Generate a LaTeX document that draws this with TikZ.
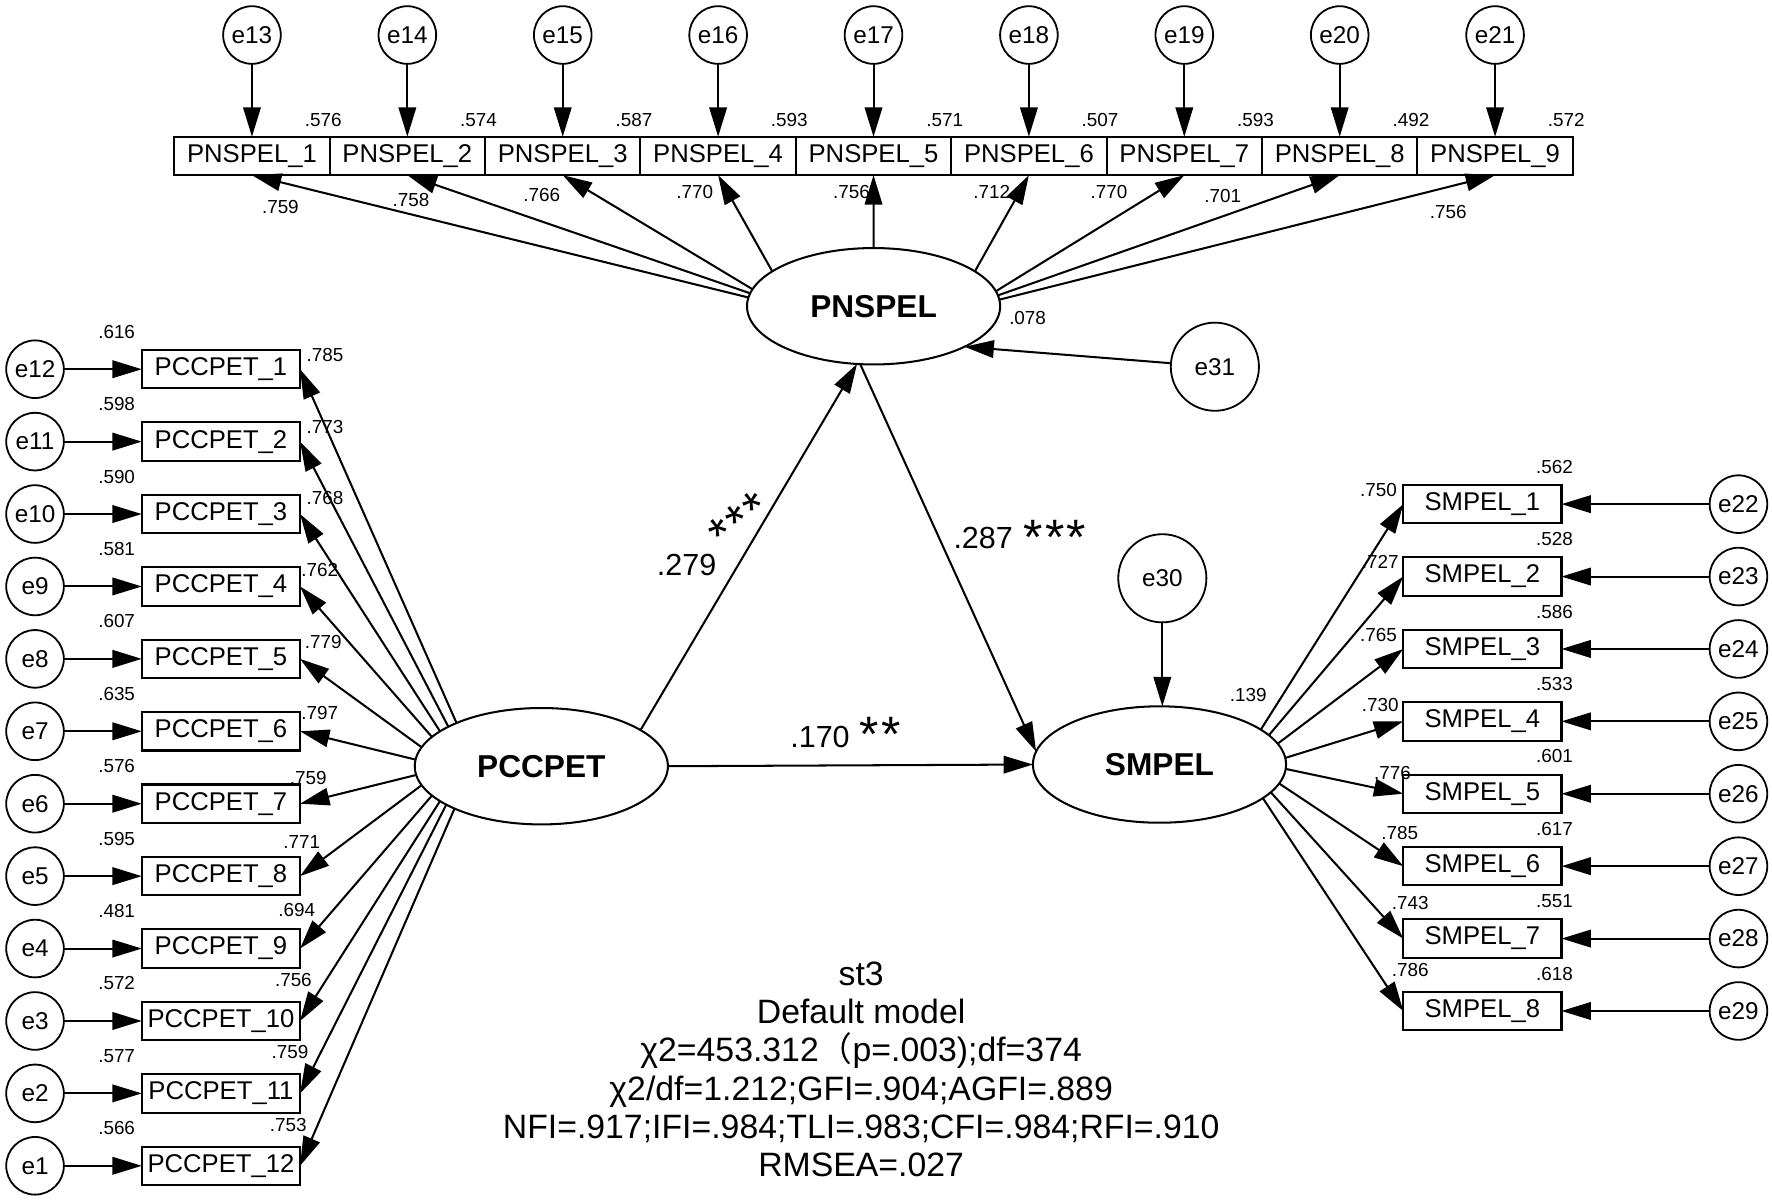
\documentclass[tikz,border=0pt]{standalone}
\usepackage{fontspec}
\setmainfont{Liberation Sans}
\newfontfamily\cjk{Noto Sans CJK SC}
\usetikzlibrary{arrows.meta,shapes.geometric}
\begin{document}
\begin{tikzpicture}[x=1pt,y=-1pt,
  every node/.style={inner sep=0pt, outer sep=0pt},
  obs/.style={draw, line width=1.8pt, rectangle, minimum height=34pt, font=\fontsize{22.7}{26}\selectfont},
  obsL/.style={obs, minimum width=140pt},
  obsT/.style={obs, minimum width=137.5pt},
  err/.style={draw, circle, line width=1.6pt, minimum size=51pt, font=\fontsize{21.5}{25}\selectfont},
  errB/.style={err, minimum size=78pt},
  lat/.style={draw, ellipse, line width=1.8pt, minimum width=224pt, minimum height=103pt, font=\bfseries\fontsize{28}{32}\selectfont},
  num/.style={font=\fontsize{16.7}{20}\selectfont},
  coef/.style={font=\fontsize{27}{31}\selectfont},
  star/.style={font=\fontsize{44}{48}\selectfont, anchor=base},
  fitline/.style={font=\fontsize{29.9}{34}\selectfont, anchor=base},
  arr/.style={line width=1.8pt, -{Triangle[length=26pt,width=15.5pt]}},
]
\fill[white] (0,0) rectangle (1568,1065);
\useasboundingbox (0,0) rectangle (1568,1065);

% latent variables
\node[lat] (PNSPEL) at (773,271) {PNSPEL};
\node[lat] (PCCPET) at (479,678) {PCCPET};
\node[lat] (SMPEL) at (1026,676.5) {SMPEL};

% top indicators
\foreach \ii/\ee/\va/\vg in {1/13/.576/176.5, 2/14/.574/174.5, 3/15/.587/172.5, 4/16/.593/161, 5/17/.571/90, 6/18/.507/19, 7/19/.593/7, 8/20/.492/5, 9/21/.572/3.5}{
  \pgfmathsetmacro\xx{154.2+137.5*(\ii-0.5)}
  \node[obsT] (pb\ii) at (\xx,138) {PNSPEL\_\ii};
  \node[err] (e\ee) at (\xx,31) {e\ee};
  \draw[arr] (e\ee) -- (pb\ii);
  \node[num] (rp\ii) at (\xx+63,106.2) {\va};
  \draw[arr] (PNSPEL.\vg) -- (pb\ii.south);
}
\foreach \ii/\vb/\vx/\vy in {1/.759/248.1/182.9, 2/.758/363.7/177, 3/.766/479.3/172.5, 4/.770/614.7/169.6, 5/.756/753.4/169.6, 6/.712/877.5/169.6, 7/.770/981.4/169.6, 8/.701/1082/173, 9/.756/1281.6/187.3}{
  \node[num] (lp\ii) at (\vx,\vy) {\vb};
}

% left indicators
\foreach \ii/\ee/\va/\vb/\vx/\vy/\vg in {1/12/.616/.785/287.6/314.1/153, 2/11/.598/.773/287.6/377.6/157, 3/10/.590/.768/287.6/441/161, 4/9/.581/.762/283/504.4/165, 5/8/.607/.779/286/567.8/171, 6/7/.635/.797/283/631.2/177, 7/6/.576/.759/272.8/688.7/184, 8/5/.595/.771/267/744.8/189, 9/4/.481/.694/262.5/805.2/195, 10/3/.572/.756/259.6/867.2/199, 11/2/.577/.759/256.6/930.6/202, 12/1/.566/.753/255.1/995.5/206}{
  \pgfmathsetmacro\yy{326.7+64.08*(\ii-1)}
  \node[obsL] (lb\ii) at (195.5,\yy) {PCCPET\_\ii};
  \node[err] (e\ee) at (31,\yy) {e\ee};
  \draw[arr] (e\ee) -- (lb\ii.west);
  \node[num] (rl\ii) at (103.2,\yy-33.2) {\va};
  \node[num] (ll\ii) at (\vx,\vy) {\vb};
  \draw[arr] (PCCPET.\vg) -- (lb\ii.east);
}

% right indicators
\foreach \ii/\ee/\va/\vb/\vx/\vy/\vg in {1/22/.562/.750/1219.8/433.6/19.8, 2/23/.528/.727/1221.3/497/15.3, 3/24/.586/.765/1219.8/562.2/10.7, 4/25/.533/.730/1221.3/624.2/3.3, 5/26/.601/.776/1232.2/684.3/-2.7, 6/27/.617/.785/1238.5/737.4/-9.1, 7/28/.551/.743/1247.8/799.3/-14.1, 8/29/.618/.786/1247.8/858.3/-18.6}{
  \pgfmathsetmacro\yy{446.1+64.07*(\ii-1)}
  \node[obsL] (rb\ii) at (1311.7,\yy) {SMPEL\_\ii};
  \node[err] (e\ee) at (1538.3,\yy) {e\ee};
  \draw[arr] (e\ee) -- (rb\ii.east);
  \node[num] (rr\ii) at (1375.5,\yy-33) {\va};
  \node[num] (lr\ii) at (\vx,\vy) {\vb};
  \draw[arr] (SMPEL.\vg) -- (rb\ii.west);
}

% disturbances
\node[errB] (e31) at (1075,324.5) {e31};
\node[errB] (e30) at (1028.5,511.7) {e30};
\draw[arr] (e31) -- (PNSPEL.-24);
\draw[arr] (e30) -- (e30 |- SMPEL.north);
\node[num] (r078) at (909.3,281.7) {.078};
\node[num] (r139) at (1104.6,615) {.139};

% structural paths
\draw[arr] (PCCPET.20.6) -- (PNSPEL.-106);
\draw[arr] (PNSPEL.-103) -- (SMPEL.174);
\draw[arr] (PCCPET.east) -- (SMPEL.west);
\node[coef] (c1) at (607.6,500) {.279};
\node[star, rotate=38] (s1) at (664,473) {*\kern2pt*\kern2pt*};
\node[coef] (c2) at (870,476.4) {.287};
\node[star] (s2) at (933.5,491) {*\kern2pt*\kern2pt*};
\node[coef] (c3) at (725.6,651.9) {.170};
\node[star] (s3) at (778.7,665) {*\kern2pt*};

% fit statistics
\node[fitline] (t1) at (762,871.8) {st3};
\node[fitline] (t2) at (762,905.7) {Default model};
\node[fitline] (t3) at (762,939.6) {χ2=453.312{\cjk （}p=.003);df=374};
\node[fitline] (t4) at (762,973.5) {χ2/df=1.212;GFI=.904;AGFI=.889};
\node[fitline] (t5) at (762,1007.5) {NFI=.917;IFI=.984;TLI=.983;CFI=.984;RFI=.910};
\node[fitline] (t6) at (762,1041.4) {RMSEA=.027};
\end{tikzpicture}
\end{document}
